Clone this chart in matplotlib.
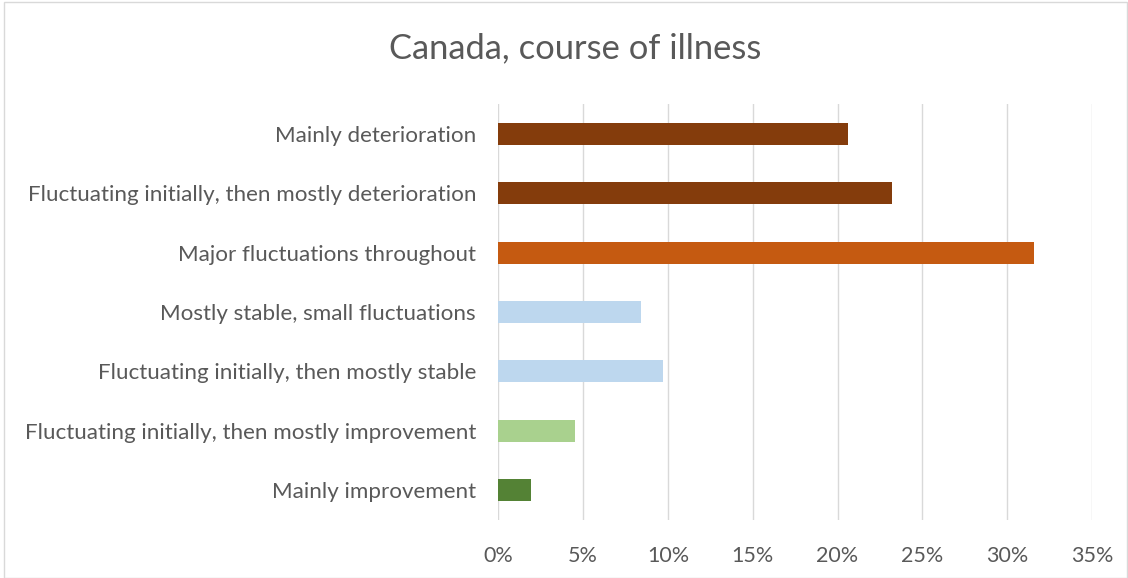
import matplotlib
matplotlib.use("Agg")
import matplotlib.pyplot as plt
from matplotlib.patches import Rectangle
from matplotlib.ticker import FuncFormatter, MultipleLocator

categories = [
    "Mainly deterioration",
    "Fluctuating initially, then mostly deterioration",
    "Major fluctuations throughout",
    "Mostly stable, small fluctuations",
    "Fluctuating initially, then mostly stable",
    "Fluctuating initially, then mostly improvement",
    "Mainly improvement",
]
values = [20.6, 23.2, 31.6, 8.4, 9.7, 4.5, 1.9]
colors = ["#843C0C", "#843C0C", "#C55A11", "#BDD7EE", "#BDD7EE", "#A9D18E", "#548235"]
title = "Canada, course of illness"

plt.rcParams['font.family'] = ['Lato', 'DejaVu Sans']
text_color = "#595959"

fig = plt.figure(figsize=(11.28, 5.78), dpi=100)
ax = fig.add_axes([498.3 / 1128, 1 - 520 / 578, (1092 - 498.3) / 1128, (520 - 104) / 578])

ypos = list(range(len(categories)))
ax.barh(ypos, values, height=0.37, color=colors, zorder=3)
ax.set_yticks(ypos)
ax.set_yticklabels(categories, fontsize=16.1, color=text_color)
ax.set_ylim(len(categories) - 0.5, -0.5)
ax.set_xlim(0, 35)
ax.xaxis.set_major_locator(MultipleLocator(5))
ax.xaxis.set_major_formatter(FuncFormatter(lambda v, p: f"{v:.0f}%"))
ax.tick_params(axis='x', labelsize=15.5, labelcolor=text_color, length=0, pad=18.5)
ax.tick_params(axis='y', length=0, pad=16)
ax.grid(axis='x', color="#D9D9D9", linewidth=1.0, zorder=0)
for s in ax.spines.values():
    s.set_visible(False)

fig.text(575 / 1128, 1 - 48 / 578, title, ha='center', va='center', fontsize=24.8, color=text_color)

fig.patches.append(Rectangle((3.5 / 1128, 0.5 / 578), 1123 / 1128, 576 / 578,
                             transform=fig.transFigure, fill=False,
                             edgecolor="#D9D9D9", linewidth=1.0))

fig.savefig("out.png", dpi=100, facecolor="white")
